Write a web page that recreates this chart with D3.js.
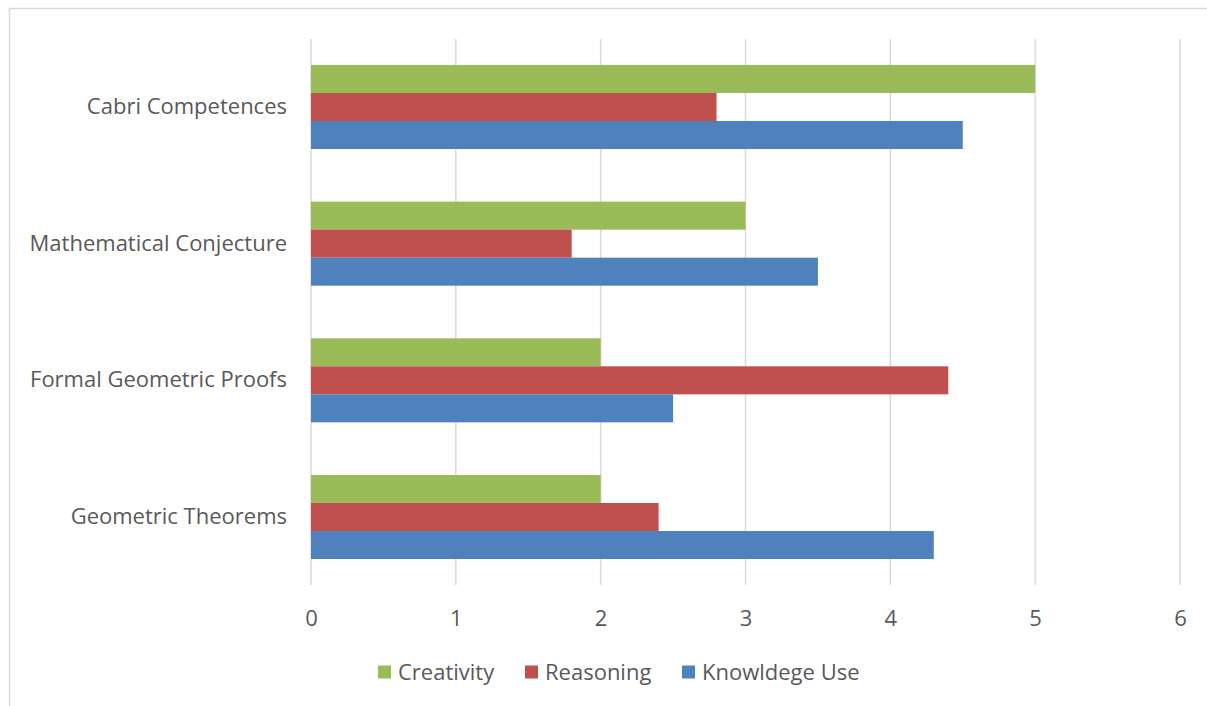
<!DOCTYPE html>
<html>
<head>
<meta charset="utf-8">
<script src="https://cdn.jsdelivr.net/npm/d3@7"></script>
<style>
  body { margin: 0; background: #fff; }
  text { font-family: "Open Sans", sans-serif; fill: #595959; }
</style>
</head>
<body>
<div id="chart"></div>
<script>
// data
var categories = ["Cabri Competences", "Mathematical Conjecture", "Formal Geometric Proofs", "Geometric Theorems"];
var seriesNames = ["Creativity", "Reasoning", "Knowldege Use"];
var creativity = [5, 3, 2, 2];
var reasoning = [2.8, 1.8, 4.4, 2.4];
var knowledgeUse = [4.5, 3.5, 2.5, 4.3];
var xTicks = [0, 1, 2, 3, 4, 5, 6];

var colors = ["#9BBB59", "#C0504D", "#4F81BD"];

var svgWidth = 1207;
var svgHeight = 706;

var margin = { top: 39, right: 27, bottom: 121, left: 311 };
var width = svgWidth - margin.left - margin.right;
var height = svgHeight - margin.top - margin.bottom;

var svg = d3.select("#chart")
  .append("svg")
  .attr("width", svgWidth)
  .attr("height", svgHeight);

// outer chart border (only top and left visible in the crop)
svg.append("path")
  .attr("d", "M9.5," + svgHeight + "V8.5H" + svgWidth)
  .attr("fill", "none")
  .attr("stroke", "#d9d9d9")
  .attr("stroke-width", 1.5);

var chartGroup = svg.append("g")
  .attr("transform", `translate(${margin.left}, ${margin.top})`);

var rows = categories.map(function(c, i) {
  return { cat: c, values: [creativity[i], reasoning[i], knowledgeUse[i]] };
});

var xScale = d3.scaleLinear().domain([0, 6]).range([0, width]);

var yScale = d3.scaleBand()
  .domain(categories)
  .range([0, height])
  .paddingInner(0.385)
  .paddingOuter(0.19);

var ySub = d3.scaleBand()
  .domain(d3.range(seriesNames.length))
  .range([0, yScale.bandwidth()]);

// gridlines
chartGroup.append("g")
  .selectAll("line")
  .data(xTicks)
  .enter()
  .append("line")
  .attr("x1", d => xScale(d))
  .attr("x2", d => xScale(d))
  .attr("y1", 0)
  .attr("y2", height)
  .attr("stroke", "#d9d9d9")
  .attr("stroke-width", 1.5);

// bars
var groups = chartGroup.selectAll(".cat")
  .data(rows)
  .enter()
  .append("g")
  .attr("class", "cat")
  .attr("transform", d => `translate(0, ${yScale(d.cat)})`);

groups.selectAll("rect")
  .data(d => d.values)
  .enter()
  .append("rect")
  .attr("x", xScale(0))
  .attr("y", (d, i) => ySub(i))
  .attr("width", d => xScale(d) - xScale(0))
  .attr("height", ySub.bandwidth())
  .attr("fill", (d, i) => colors[i]);

// x axis labels
var bottomAxis = d3.axisBottom(xScale)
  .tickValues(xTicks)
  .tickFormat(d3.format("d"))
  .tickSize(0)
  .tickPadding(25);
var xAxis = chartGroup.append("g")
  .attr("transform", `translate(0, ${height})`)
  .call(bottomAxis);
xAxis.select(".domain").remove();
xAxis.selectAll("text")
  .style("font-size", "22px")
  .attr("fill", "#595959");

// y axis labels
var leftAxis = d3.axisLeft(yScale).tickSize(0).tickPadding(24);
var yAxis = chartGroup.append("g").call(leftAxis);
yAxis.select(".domain").remove();
yAxis.selectAll("text")
  .style("font-size", "22px")
  .attr("fill", "#595959");

// legend
var legendX = [378, 525, 682];
var legend = svg.append("g")
  .attr("transform", "translate(0, 672)");

var items = legend.selectAll("g")
  .data(seriesNames)
  .enter()
  .append("g")
  .attr("transform", (d, i) => `translate(${legendX[i]}, 0)`);

items.append("rect")
  .attr("x", 0)
  .attr("y", -6.5)
  .attr("width", 13)
  .attr("height", 13)
  .attr("fill", (d, i) => colors[i]);

items.append("text")
  .attr("x", 20)
  .attr("y", 0)
  .attr("dy", "0.35em")
  .style("font-size", "22px")
  .text(d => d);
</script>
</body>
</html>
